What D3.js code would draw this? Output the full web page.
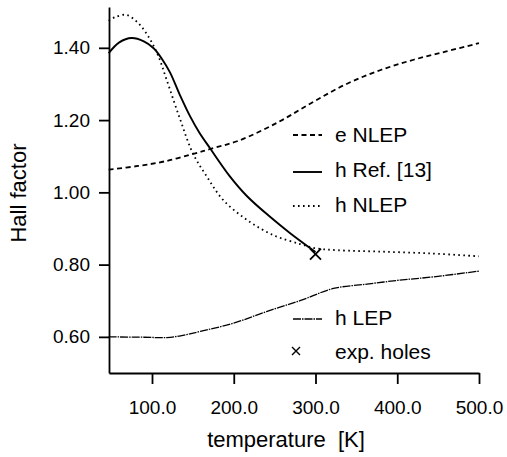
<!DOCTYPE html>
<html>
<head>
<meta charset="utf-8">
<script src="https://cdn.jsdelivr.net/npm/d3@7"></script>
<style>
  body { margin: 0; background: #fff; }
  svg { display: block; font-family: "Liberation Sans", Arial, Helvetica, sans-serif; }
  .axis path, .axis line { stroke: #000; stroke-width: 1.8; }
  .axis text { font-size: 19px; fill: #000; }
</style>
</head>
<body>
<svg width="507" height="457"></svg>
<script>
// values
const eNlepT = [47, 83, 116, 153, 171, 206, 255, 297, 338, 379, 420, 460, 500];
const eNlep  = [1.063, 1.073, 1.086, 1.108, 1.12, 1.143, 1.195, 1.25, 1.30, 1.338, 1.367, 1.39, 1.413];

const hRefT = [47, 60, 75, 90, 102, 112, 122, 134, 146, 158, 171, 195, 216, 244, 269, 300];
const hRef  = [1.385, 1.415, 1.427, 1.418, 1.399, 1.37, 1.332, 1.27, 1.213, 1.165, 1.122, 1.045, 0.99, 0.933, 0.887, 0.835];

const hNlepT = [47, 55, 69, 85, 98, 108, 118, 134, 150, 167, 187, 216, 248, 281, 301, 326, 379, 440, 500];
const hNlep  = [1.475, 1.485, 1.491, 1.464, 1.422, 1.376, 1.311, 1.205, 1.108, 1.044, 0.979, 0.924, 0.882, 0.857, 0.845, 0.84, 0.836, 0.831, 0.823];

const hLepT = [47, 90, 118, 135, 159, 200, 240, 281, 322, 363, 403, 444, 500];
const hLep  = [0.60, 0.599, 0.598, 0.603, 0.615, 0.638, 0.67, 0.70, 0.734, 0.746, 0.757, 0.766, 0.782];

const expT = [300];
const expHoles = [0.826];

const xTicks = [100, 200, 300, 400, 500];
const yTicks = [0.6, 0.8, 1.0, 1.2, 1.4];

const svg = d3.select("svg");
const x = d3.scaleLinear().domain([47.4, 500]).range([109, 479]);
const y = d3.scaleLinear().domain([0.5, 1.513]).range([373, 7]);

const series = [
  { name: "e NLEP", t: eNlepT, v: eNlep, width: 1.8, dash: "5,3.5", ly: 135, ty: 142 },
  { name: "h Ref. [13]", t: hRefT, v: hRef, width: 1.9, dash: null, ly: 172, ty: 177 },
  { name: "h NLEP", t: hNlepT, v: hNlep, width: 1.8, dash: "1.6,3.4", ly: 206, ty: 212 },
  { name: "h LEP", t: hLepT, v: hLep, width: 1.3, dash: "8,1,1.5,1", ly: 319, ty: 325 }
];

const line = d3.line()
  .x(d => x(d[0]))
  .y(d => y(d[1]))
  .curve(d3.curveCatmullRom.alpha(0.5));

series.forEach(s => {
  svg.append("path")
    .datum(d3.zip(s.t, s.v))
    .attr("d", line)
    .attr("fill", "none")
    .attr("stroke", "#000")
    .attr("stroke-width", s.width)
    .attr("stroke-dasharray", s.dash);

  svg.append("line")
    .attr("x1", 293).attr("x2", 322)
    .attr("y1", s.ly).attr("y2", s.ly)
    .attr("stroke", "#000")
    .attr("stroke-width", s.width)
    .attr("stroke-dasharray", s.dash);

  svg.append("text")
    .attr("x", 335).attr("y", s.ty)
    .style("font-size", "21px")
    .text(s.name);
});

// cross markers
function cross(cx, cy, r, w) {
  svg.append("path")
    .attr("d", `M${cx - r},${cy - r}L${cx + r},${cy + r}M${cx - r},${cy + r}L${cx + r},${cy - r}`)
    .attr("stroke", "#000")
    .attr("stroke-width", w);
}
d3.zip(expT, expHoles).forEach(d => cross(x(d[0]), y(d[1]) - 1, 5.5, 1.8));
cross(296, 351, 4, 1.4);
svg.append("text")
  .attr("x", 335).attr("y", 359)
  .style("font-size", "21px")
  .text("exp. holes");

// axes
svg.append("g")
  .attr("class", "axis")
  .attr("transform", "translate(0,373)")
  .call(d3.axisBottom(x).tickValues(xTicks).tickFormat(d3.format(".1f"))
    .tickSize(11).tickSizeOuter(0).tickPadding(17));

svg.append("g")
  .attr("class", "axis")
  .attr("transform", "translate(109,0)")
  .call(d3.axisLeft(y).tickValues(yTicks).tickFormat(d3.format(".2f"))
    .tickSize(10).tickSizeOuter(0).tickPadding(9));

svg.append("text")
  .attr("x", 286).attr("y", 447)
  .attr("text-anchor", "middle")
  .style("font-size", "22px")
  .style("white-space", "pre")
  .text("temperature  [K]");

svg.append("text")
  .attr("transform", "translate(26,193) rotate(-90)")
  .attr("text-anchor", "middle")
  .style("font-size", "22px")
  .text("Hall factor");
</script>
</body>
</html>
